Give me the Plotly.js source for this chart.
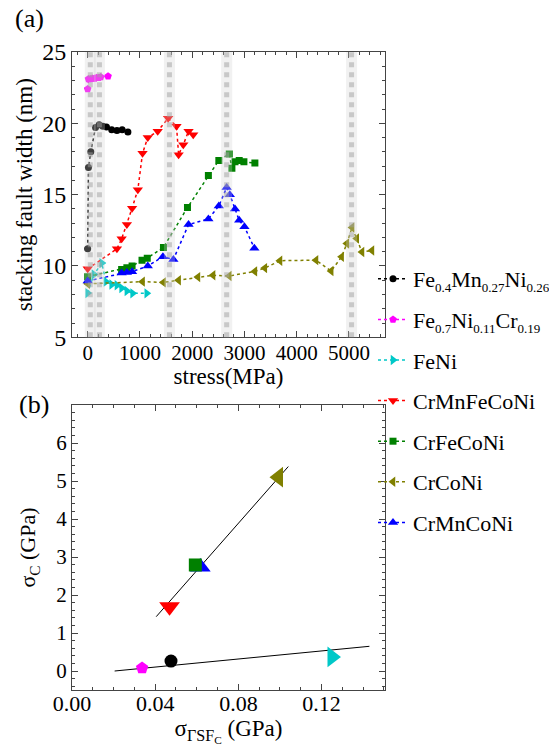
<!DOCTYPE html>
<html><head><meta charset="utf-8">
<script src="https://cdn.plot.ly/plotly-3.0.1.min.js"></script>
<style>html,body{margin:0;padding:0;background:#fff}#chart{width:549px;height:746px}</style>
</head><body><div id="chart"></div>
<script>
// ---- data (a): stacking fault width (nm) vs stress (MPa)
const fe04_x = [0, 15, 60, 150, 220, 290, 360, 460, 560, 660, 770];
const fe04_y = [11.2, 16.9, 18.0, 19.7, 19.9, 19.8, 19.75, 19.55, 19.5, 19.55, 19.4];
const fe07_x = [0, 15, 50, 90, 130, 170, 210, 250, 390];
const fe07_y = [22.4, 23.1, 23.1, 23.15, 23.15, 23.2, 23.2, 23.25, 23.3];
const feni_x = [0, 120, 270, 350, 460, 560, 650, 750, 860, 1130];
const feni_y = [8.1, 9.4, 10.2, 8.9, 8.7, 8.65, 8.45, 8.25, 8.08, 8.08];
const crmnfeconi_x = [0, 560, 650, 750, 850, 960, 1050, 1150, 1340, 1540, 1700, 1740, 1830, 1930, 2020];
const crmnfeconi_y = [9.8, 11.2, 11.9, 12.9, 14.05, 15.35, 17.9, 19.0, 19.45, 20.35, 19.8, 17.8, 18.5, 19.45, 19.2];
const crfeconi_x = [0, 650, 750, 850, 1040, 1140, 1450, 1910, 2310, 2510, 2710, 2760, 2820, 2900, 2990, 3200];
const crfeconi_y = [9.25, 9.75, 9.88, 10.0, 10.4, 10.55, 11.3, 14.1, 16.35, 17.4, 17.85, 16.85, 17.3, 17.4, 17.3, 17.22];
const crconi_x = [0, 1050, 1450, 1740, 2110, 2400, 2710, 3200, 3390, 3680, 4370, 4660, 4860, 4960, 5060, 5150, 5250, 5440];
const crconi_y = [8.75, 8.9, 8.85, 9.0, 9.22, 9.35, 9.3, 9.62, 9.85, 10.37, 10.41, 9.65, 10.64, 11.58, 12.7, 11.93, 10.98, 11.08];
const crmnconi_x = [0, 650, 750, 850, 1150, 1440, 1640, 1930, 2310, 2510, 2660, 2720, 2820, 2900, 3000, 3190];
const crmnconi_y = [8.95, 9.5, 9.55, 9.6, 10.0, 10.65, 10.45, 12.9, 13.3, 14.2, 15.5, 15.0, 14.0, 13.2, 12.75, 11.25];
const bandX = [50, 225, 1565, 2660, 5050];

// ---- data (b): sigma_C vs sigma_TSF_C (GPa)
const sub = t => '<sub><span style="font-size:13px">' + t + '</span></sub>';
const names = ['Fe' + sub('0.4') + 'Mn' + sub('0.27') + 'Ni' + sub('0.26'),
               'Fe' + sub('0.7') + 'Ni' + sub('0.11') + 'Cr' + sub('0.19'),
               'FeNi', 'CrMnFeCoNi', 'CrFeCoNi', 'CrCoNi', 'CrMnCoNi'];
const sigmaTSF = [0.0476, 0.0337, 0.125, 0.0469, 0.0593, 0.0993, 0.0617];
const sigmaC = [0.26, 0.08, 0.37, 1.69, 2.79, 5.1, 2.74];
const fit1_x = [0.0405, 0.104];
const fit1_y = [1.43, 5.38];
const fit2_x = [0.0205, 0.143];
const fit2_y = [0.0, 0.65];
const yTicksB = [0, 1, 2, 3, 4, 5, 6];

const colors = ['#000000', '#ff00ff', '#00c8c8', '#ff0000', '#008000', '#808000', '#0000ff'];
const symbols = ['circle', 'pentagon', 'triangle-right', 'triangle-down', 'square', 'triangle-left', 'triangle-up'];
const sizesA = [7, 8, 9, 9, 7, 9, 9];
const sizesB = [13, 13, 18, 18, 13, 18, 18];

const FONT = 'Liberation Serif';
const ML = 72, MR = 164, MT = 52, MB = 56;
const PW = 549 - ML - MR, PH = 746 - MT - MB;
const PX = p => (p - ML) / PW;
const PY = p => (746 - MB - p) / PH;

const seriesA = [[fe04_x, fe04_y], [fe07_x, fe07_y], [feni_x, feni_y], [crmnfeconi_x, crmnfeconi_y],
                 [crfeconi_x, crfeconi_y], [crconi_x, crconi_y], [crmnconi_x, crmnconi_y]];

const traces = seriesA.map((s, i) => ({
  type: 'scatter', mode: 'lines+markers', x: s[0], y: s[1], name: names[i],
  xaxis: 'x', yaxis: 'y', legendgroup: 'g' + i,
  line: {color: colors[i], width: 1.5, dash: 'dot'},
  marker: {color: colors[i], symbol: symbols[i], size: sizesA[i]}
}));

traces.push({type: 'scatter', mode: 'lines', x: fit1_x, y: fit1_y, xaxis: 'x2', yaxis: 'y2',
  showlegend: false, line: {color: 'black', width: 1}, hoverinfo: 'skip'});
traces.push({type: 'scatter', mode: 'lines', x: fit2_x, y: fit2_y, xaxis: 'x2', yaxis: 'y2',
  showlegend: false, line: {color: 'black', width: 1}, hoverinfo: 'skip'});

const orderB = [0, 1, 2, 3, 6, 4, 5];
orderB.forEach(i => traces.push({
  type: 'scatter', mode: 'markers', x: [sigmaTSF[i]], y: [sigmaC[i]], xaxis: 'x2', yaxis: 'y2',
  showlegend: false, marker: {color: colors[i], symbol: symbols[i], size: sizesB[i]}
}));

const shapes = [];
bandX.forEach(b => {
  shapes.push({type: 'line', xref: 'x', yref: 'y domain', x0: b, x1: b, y0: 0, y1: 1, layer: 'above',
    line: {color: 'rgba(210,210,210,0.3)', width: 11}});
  shapes.push({type: 'line', xref: 'x', yref: 'y domain', x0: b, x1: b, y0: 0, y1: 1, layer: 'above',
    line: {color: 'rgba(160,160,160,0.5)', width: 5, dash: 'dot'}});
});

const axBase = {showline: true, mirror: 'allticks', linecolor: '#444', linewidth: 1, ticks: 'inside',
  tickcolor: '#444', zeroline: false, showgrid: false, automargin: false};

const layout = {
  width: 549, height: 746, margin: {l: ML, r: MR, t: MT, b: MB, autoexpand: false},
  paper_bgcolor: 'white', plot_bgcolor: 'white',
  font: {family: FONT, color: 'black'},
  showlegend: true,
  legend: {x: PX(373), y: PY(258), xanchor: 'left', yanchor: 'top', font: {size: 22, family: FONT},
    tracegroupgap: 9, bgcolor: 'rgba(0,0,0,0)', borderwidth: 0},
  xaxis: Object.assign({}, axBase, {domain: [0, 1], anchor: 'y', range: [-300, 5690],
    tick0: 0, dtick: 1000, ticklen: 6, ticklabelstandoff: -4,
    minor: {dtick: 200, tick0: 0, ticklen: 3, ticks: 'inside', tickcolor: '#444'},
    tickfont: {size: 21}, title: {text: 'stress(MPa)', font: {size: 23}, standoff: 0}}),
  yaxis: Object.assign({}, axBase, {domain: [PY(337.3), 1], anchor: 'x', range: [5, 25],
    tick0: 0, dtick: 5, ticklen: 6, minor: {dtick: 1, tick0: 0, ticklen: 3, ticks: 'inside', tickcolor: '#444'},
    tickfont: {size: 24}, title: {text: 'stacking fault width (nm)', font: {size: 23}, standoff: 3}}),
  xaxis2: Object.assign({}, axBase, {domain: [0, 1], anchor: 'y2', range: [0, 0.1505],
    tick0: 0, dtick: 0.04, tickformat: '.2f', ticklen: 6, ticklabelstandoff: -6,
    minor: {dtick: 0.01, tick0: 0, ticklen: 3, ticks: 'inside', tickcolor: '#444'},
    tickfont: {size: 22}, title: {text: 'σ<sub>ΓSF<sub>C</sub></sub> (GPa)', font: {size: 23}, standoff: 0}}),
  yaxis2: Object.assign({}, axBase, {domain: [0, PY(405)], anchor: 'x2', range: [-0.5, 7],
    tickmode: 'array', tickvals: yTicksB, ticklen: 6, minor: {tickmode: 'linear', dtick: 0.2, tick0: 0, ticklen: 3, ticks: 'inside', tickcolor: '#444'},
    tickfont: {size: 21}, title: {text: 'σ<sub>C</sub> (GPa)', font: {size: 22}, standoff: 14}}),
  shapes: shapes,
  annotations: [
    {text: '(a)', xref: 'paper', yref: 'paper', x: PX(29), y: PY(18), xanchor: 'center', yanchor: 'middle', showarrow: false, font: {size: 26}},
    {text: '(b)', xref: 'paper', yref: 'paper', x: PX(34), y: PY(404), xanchor: 'center', yanchor: 'middle', showarrow: false, font: {size: 26}}
  ]
};

Plotly.newPlot('chart', traces, layout, {displayModeBar: false, staticPlot: true});
</script></body></html>
